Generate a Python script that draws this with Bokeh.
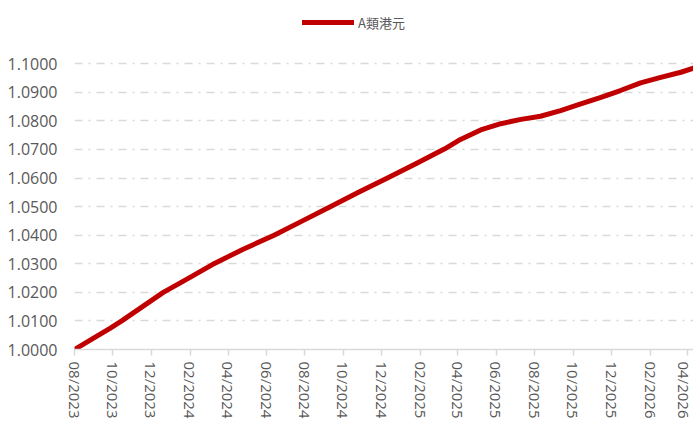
import math
import pandas as pd
from bokeh.plotting import figure
from bokeh.models import (FixedTicker, DatetimeTickFormatter, PrintfTickFormatter,
                          Legend, LegendItem, Range1d, ColumnDataSource)
from bokeh.embed import file_html
from bokeh.resources import INLINE

# ---- data ----
dates = ["2023-08-01", "2023-08-26", "2023-09-27", "2023-10-15", "2023-11-17",
         "2023-12-20", "2024-01-28", "2024-03-07", "2024-04-24", "2024-06-13",
         "2024-07-28", "2024-09-11", "2024-10-25", "2024-12-10", "2025-01-24",
         "2025-03-11", "2025-04-05", "2025-05-07", "2025-06-08", "2025-07-10",
         "2025-08-10", "2025-09-11", "2025-10-13", "2025-11-14", "2025-12-15",
         "2026-01-16", "2026-02-17", "2026-03-21", "2026-04-10"]
nav = [1.0000, 1.0033, 1.0075, 1.0100, 1.0150,
       1.0200, 1.0248, 1.0297, 1.0350, 1.0400,
       1.0450, 1.0500, 1.0550, 1.0600, 1.0650,
       1.0702, 1.0735, 1.0768, 1.0790, 1.0805,
       1.0816, 1.0836, 1.0859, 1.0882, 1.0906,
       1.0933, 1.0952, 1.0970, 1.0984]
series_name = "A類港元"
tick_months = ["2023-08-01", "2023-10-01", "2023-12-01", "2024-02-01", "2024-04-01",
               "2024-06-01", "2024-08-01", "2024-10-01", "2024-12-01", "2025-02-01",
               "2025-04-01", "2025-06-01", "2025-08-01", "2025-10-01", "2025-12-01",
               "2026-02-01", "2026-04-01"]
y_ticks = [1.00, 1.01, 1.02, 1.03, 1.04, 1.05, 1.06, 1.07, 1.08, 1.09, 1.10]

dt = pd.to_datetime(dates)
src = ColumnDataSource(dict(x=dt, y=nav))

FONT = "Open Sans"
TXT = "#595959"
GRID = "#d9d9d9"

p = figure(width=693, height=421, x_axis_type="datetime",
           output_backend="svg", toolbar_location=None,
           min_border_top=0, min_border_right=0, min_border_left=74, min_border_bottom=0)
p.outline_line_color = None
p.background_fill_color = "white"
p.border_fill_color = "white"

p.x_range = Range1d(pd.Timestamp(dates[0]), pd.Timestamp(dates[-1]))
p.y_range = Range1d(1.0, 1.1221)

r = p.line("x", "y", source=src, line_color="#c00000", line_width=5,
           line_cap="round", line_join="round")

# x axis
ticks_ms = [pd.Timestamp(t).value / 1e6 for t in tick_months]
p.xaxis.ticker = FixedTicker(ticks=ticks_ms)
fmt = "%m/%Y"
p.xaxis.formatter = DatetimeTickFormatter(
    milliseconds=fmt, seconds=fmt, minsec=fmt, minutes=fmt, hourmin=fmt,
    hours=fmt, days=fmt, months=fmt, years=fmt)
p.xaxis.major_label_orientation = -math.pi / 2
p.xaxis.axis_line_color = GRID
p.xaxis.axis_line_width = 1.5
p.xaxis.major_tick_line_color = GRID
p.xaxis.major_tick_line_width = 1.5
p.xaxis.major_tick_out = 6
p.xaxis.major_tick_in = 0
p.xaxis.minor_tick_out = 0
p.xaxis.minor_tick_line_color = None
p.xaxis.major_label_text_color = TXT
p.xaxis.major_label_text_font = FONT
p.xaxis.major_label_text_font_size = "15px"
p.xaxis.major_label_standoff = 6

# y axis
p.yaxis.ticker = FixedTicker(ticks=y_ticks)
p.yaxis.formatter = PrintfTickFormatter(format="%.4f")
p.yaxis.axis_line_color = None
p.yaxis.major_tick_line_color = None
p.yaxis.minor_tick_line_color = None
p.yaxis.major_tick_out = 0
p.yaxis.minor_tick_out = 0
p.yaxis.major_label_text_color = TXT
p.yaxis.major_label_text_font = FONT
p.yaxis.major_label_text_font_size = "16px"
p.yaxis.major_label_standoff = 17

p.xgrid.grid_line_color = None
p.ygrid.grid_line_color = GRID
p.ygrid.grid_line_width = 1.5
p.ygrid.grid_line_dash = "8 6 2 6"

legend = Legend(items=[LegendItem(label=series_name, renderers=[r])],
                location=(228, 317), padding=0, margin=0, spacing=0,
                glyph_width=52, glyph_height=20, label_standoff=4,
                label_text_font="Noto Sans CJK TC", label_text_font_size="13px",
                label_text_color=TXT, background_fill_alpha=0,
                border_line_color=None)
p.add_layout(legend)

open("out.html", "w").write(file_html(p, INLINE))
